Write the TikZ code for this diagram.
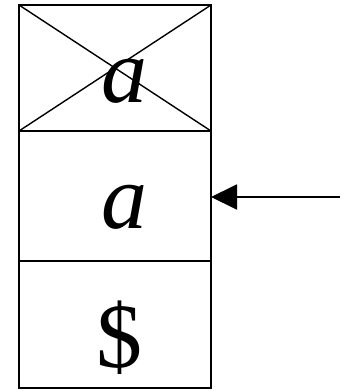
\documentclass[tikz,border=0pt]{standalone}
\usepackage{fontspec}
\setmainfont{Liberation Serif}
\usetikzlibrary{arrows.meta}

\begin{document}
\begin{tikzpicture}[x=1pt,y=-1pt,>={Triangle[length=26pt,width=25pt]},line width=1.9pt]
\tikzstyle{cell}=[draw,minimum width=192pt,inner sep=0pt,outer sep=0pt]
\tikzstyle{sym}=[font=\fontsize{92}{92}\selectfont,inner sep=0pt,anchor=base]
\useasboundingbox (0,0) rectangle (347,391);
% stack cells
\node[cell,minimum height=126pt] (c1) at (115,68) {};
\node[cell,minimum height=130pt] (c2) at (115,196) {};
\node[cell,minimum height=127pt] (c3) at (115,324.5) {};
\draw[line width=1.4pt] (c1.north west) -- (c1.south east);
\draw[line width=1.4pt] (c1.south west) -- (c1.north east);
\node[sym] (a1) at (124,102) {\textit{a}};
\node[sym] (a2) at (124,228) {\textit{a}};
\node[sym] (d3) at (119,367) {\$};
% pointer
\coordinate (src) at (340,197);
\draw[->] (src) -- (c2.east |- src);
\end{tikzpicture}
\end{document}
